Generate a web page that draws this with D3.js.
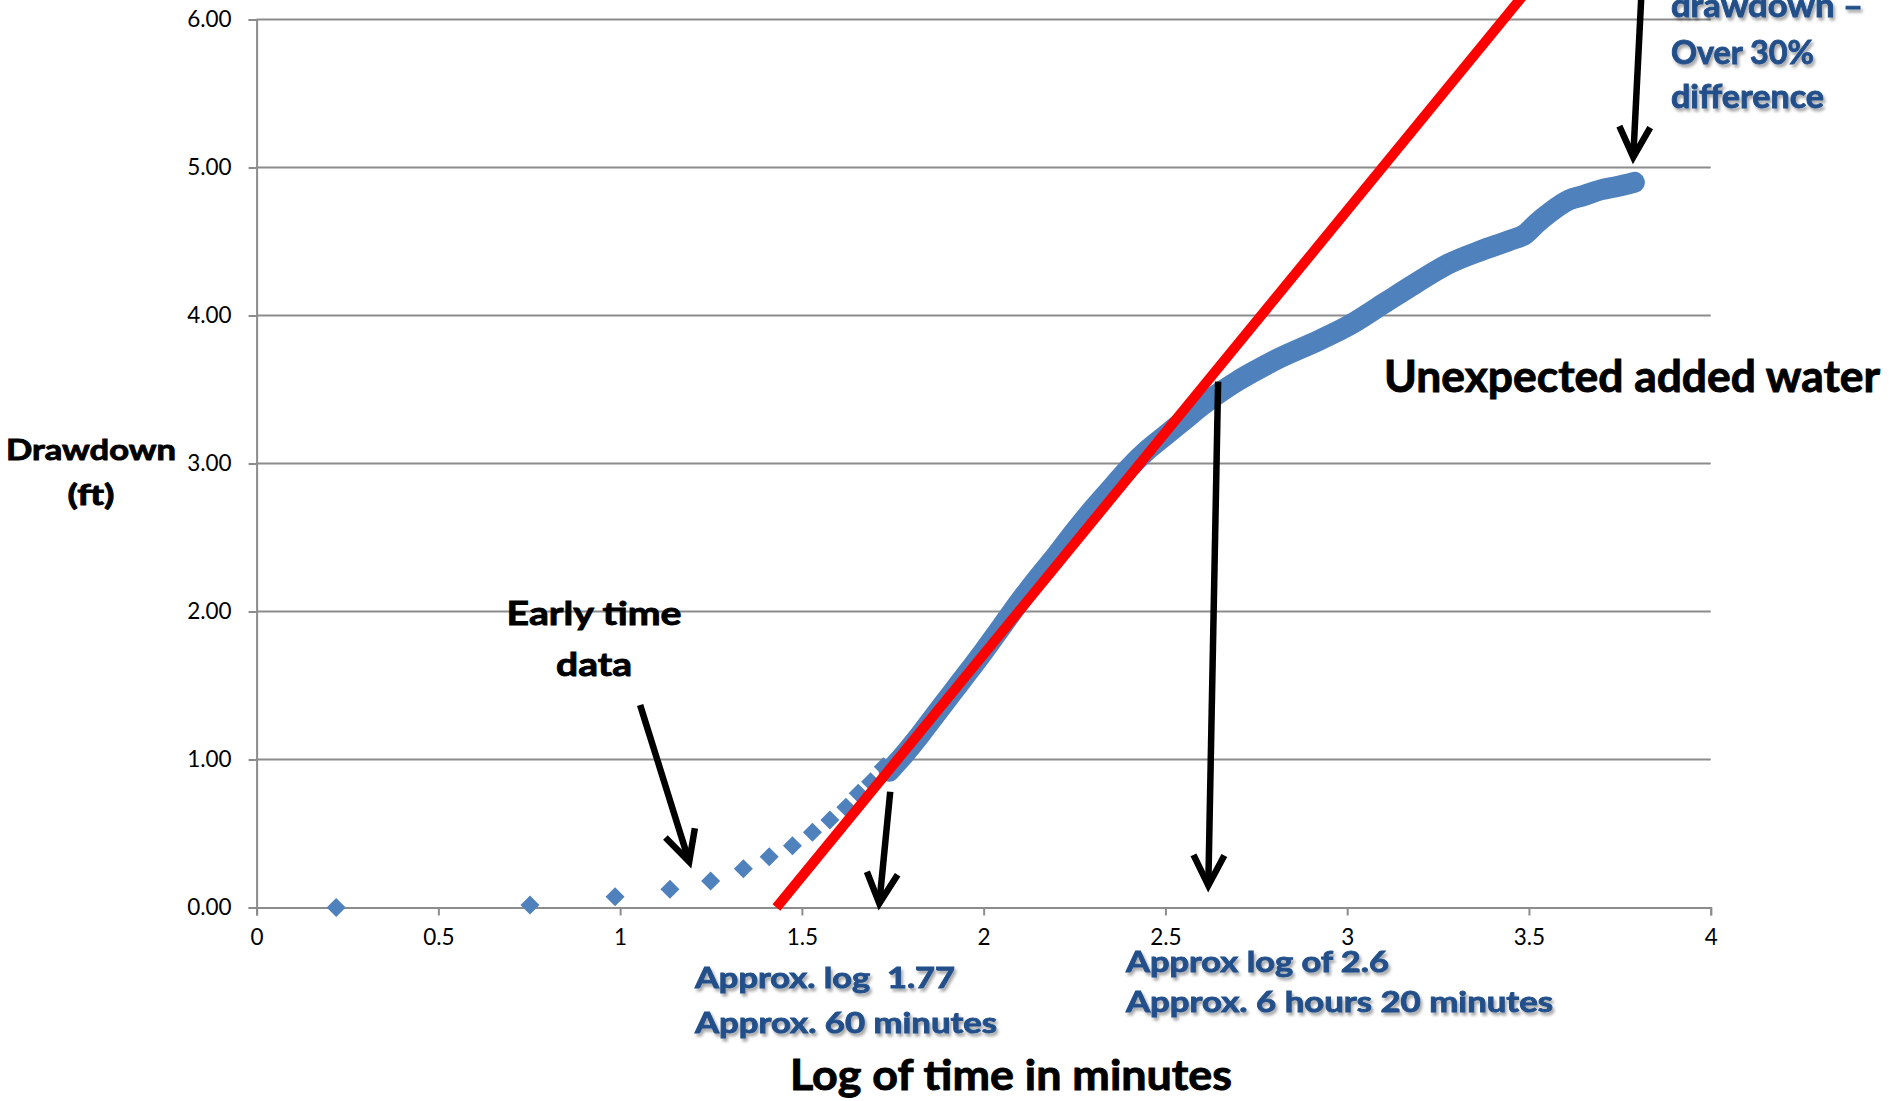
<!DOCTYPE html>
<html>
<head>
<meta charset="utf-8">
<script src="https://cdn.jsdelivr.net/npm/d3@7"></script>
<style>
  body { margin: 0; background: #fff; }
  svg { display: block; }
  text { font-family: Lato, "Open Sans", sans-serif; white-space: pre; }
</style>
</head>
<body>
<script>
// early time data (log10 of minutes, drawdown ft)
const earlyLogT = [0.219, 0.752, 0.986, 1.137, 1.249, 1.339, 1.410, 1.474, 1.529, 1.577, 1.621, 1.655, 1.689, 1.724];
const earlyDrawdown = [0.00, 0.017, 0.073, 0.123, 0.179, 0.262, 0.343, 0.418, 0.508, 0.591, 0.677, 0.772, 0.85, 0.951];

// dense part of the record, read along the middle of the band
const bandLogT = [1.74, 1.78, 1.82, 1.86, 1.91, 1.96, 2.00, 2.05, 2.10, 2.15, 2.20, 2.25, 2.30, 2.35, 2.40,
  2.45, 2.50, 2.55, 2.60, 2.65, 2.70, 2.75, 2.82, 2.92, 3.01, 3.10, 3.19, 3.28, 3.37, 3.45, 3.49, 3.52,
  3.56, 3.61, 3.65, 3.70, 3.74, 3.79];
const bandDrawdown = [0.92, 1.03, 1.15, 1.28, 1.44, 1.60, 1.73, 1.90, 2.07, 2.23, 2.38, 2.54, 2.69, 2.83, 2.97,
  3.09, 3.19, 3.29, 3.39, 3.48, 3.56, 3.63, 3.72, 3.83, 3.94, 4.08, 4.22, 4.35, 4.44, 4.51, 4.55, 4.62,
  4.70, 4.78, 4.81, 4.85, 4.87, 4.90];

// straight line fit (red)
const fitLogT = [1.43, 3.50];
const fitDrawdown = [0.0, 6.21];

const xTicks = [0, 0.5, 1, 1.5, 2, 2.5, 3, 3.5, 4];
const yTicks = [0, 1, 2, 3, 4, 5, 6];

// arrows in data units: [logT, drawdown] from -> to (tip)
const arrows = [
  {from: [1.055, 1.368], to: [1.190, 0.309]},
  {from: [1.743, 0.782], to: [1.713, 0.028]},
  {from: [2.645, 3.553], to: [2.618, 0.149]},
  {from: [3.810, 6.20], to: [3.787, 5.07]}
];

const width = 1889, height = 1101;
const margin = {left: 256.6, right: 178.3, top: 19.5, bottom: 193.5};

const x = d3.scaleLinear().domain([0, 4]).range([margin.left, width - margin.right]);
const y = d3.scaleLinear().domain([0, 6]).range([height - margin.bottom, margin.top]);

const svg = d3.select("body").append("svg")
  .attr("width", width)
  .attr("height", height)
  .attr("viewBox", [0, 0, width, height]);

const defs = svg.append("defs");
defs.append("filter").attr("id", "shadow")
  .attr("x", "-5%").attr("y", "-20%").attr("width", "115%").attr("height", "160%")
  .append("feDropShadow")
  .attr("dx", 2).attr("dy", 3).attr("stdDeviation", 1.6)
  .attr("flood-color", "#000").attr("flood-opacity", 0.35);

const gray = "#8c8c8c";

// gridlines
svg.append("g")
  .selectAll("line")
  .data(yTicks.filter(d => d > 0))
  .join("line")
  .attr("x1", x(0)).attr("x2", x(4))
  .attr("y1", d => y(d)).attr("y2", d => y(d))
  .attr("stroke", gray).attr("stroke-width", 2);

// y axis
const yAxis = svg.append("g")
  .attr("transform", `translate(${x(0)},0)`)
  .call(d3.axisLeft(y).tickValues(yTicks).tickFormat(d3.format(".2f")).tickSize(8).tickPadding(17));
yAxis.select(".domain").attr("stroke", gray).attr("stroke-width", 2);
yAxis.selectAll(".tick line").attr("stroke", gray).attr("stroke-width", 2);
yAxis.selectAll(".tick text").attr("font-size", 22.5).attr("fill", "#000")
  .attr("font-family", "Lato, 'Open Sans', sans-serif");

// x axis
const xAxis = svg.append("g")
  .attr("transform", `translate(0,${y(0)})`)
  .call(d3.axisBottom(x).tickValues(xTicks).tickFormat(d => String(d)).tickSize(8).tickPadding(14));
xAxis.select(".domain").attr("stroke", gray).attr("stroke-width", 2);
xAxis.selectAll(".tick line").attr("stroke", gray).attr("stroke-width", 2);
xAxis.selectAll(".tick text").attr("font-size", 22.5).attr("fill", "#000")
  .attr("font-family", "Lato, 'Open Sans', sans-serif");

const blue = "#4f81bd";
const diamond = (cx, cy, r) => `M${cx},${cy - r}L${cx + r},${cy}L${cx},${cy + r}L${cx - r},${cy}Z`;

// dense band as a thick line plus markers
const bandPts = bandLogT.map((d, i) => [d, bandDrawdown[i]]);
svg.append("path")
  .datum(bandPts)
  .attr("fill", "none")
  .attr("stroke", blue)
  .attr("stroke-width", 21)
  .attr("stroke-linejoin", "round")
  .attr("stroke-linecap", "round")
  .attr("d", d3.line().curve(d3.curveMonotoneX).x(d => x(d[0])).y(d => y(d[1])));

const markerPts = earlyLogT.map((d, i) => [d, earlyDrawdown[i]]).concat(bandPts);
svg.append("g")
  .selectAll("path")
  .data(markerPts)
  .join("path")
  .attr("d", d => diamond(x(d[0]), y(d[1]), 9.5))
  .attr("fill", blue);

// red fitted line
svg.append("path")
  .datum(fitLogT.map((d, i) => [d, fitDrawdown[i]]))
  .attr("fill", "none")
  .attr("stroke", "#ff0000")
  .attr("stroke-width", 10)
  .attr("d", d3.line().x(d => x(d[0])).y(d => y(d[1])));

// arrows
const armLen = 34, armAng = 27 * Math.PI / 180;
const ga = svg.append("g").attr("stroke", "#000").attr("fill", "none")
  .attr("stroke-width", 6.5);
arrows.forEach(a => {
  const x0 = x(a.from[0]), y0 = y(a.from[1]);
  const x1 = x(a.to[0]), y1 = y(a.to[1]);
  ga.append("line").attr("x1", x0).attr("y1", y0).attr("x2", x1).attr("y2", y1);
  const ang = Math.atan2(y0 - y1, x0 - x1);
  const p1 = [x1 + armLen * Math.cos(ang + armAng), y1 + armLen * Math.sin(ang + armAng)];
  const p2 = [x1 + armLen * Math.cos(ang - armAng), y1 + armLen * Math.sin(ang - armAng)];
  ga.append("path")
    .attr("d", `M${p1}L${x1},${y1}L${p2}`)
    .attr("stroke-linejoin", "miter")
    .attr("stroke-miterlimit", 10);
});

// text annotations
const labels = [
  {t: "Drawdown", x: 91, y: 460, size: 29, w: 170, anchor: "middle", color: "#000"},
  {t: "(ft)", x: 91, y: 505, size: 29, w: 47, anchor: "middle", color: "#000"},
  {t: "Early time", x: 594, y: 625, size: 33, w: 175, anchor: "middle", color: "#000"},
  {t: "data", x: 594, y: 676, size: 33, w: 76, anchor: "middle", color: "#000"},
  {t: "Unexpected added water", x: 1384, y: 392, size: 43, w: 496, anchor: "start", color: "#000"},
  {t: "Log of time in minutes", x: 790, y: 1090, size: 42, w: 442, anchor: "start", color: "#000"},
  {t: "Approx. log  1.77", x: 695, y: 988, size: 29, w: 260, anchor: "start", color: "#24508a", shadow: true},
  {t: "Approx. 60 minutes", x: 695, y: 1033, size: 29, w: 302, anchor: "start", color: "#24508a", shadow: true},
  {t: "Approx log of 2.6", x: 1126, y: 972, size: 29, w: 263, anchor: "start", color: "#24508a", shadow: true},
  {t: "Approx. 6 hours 20 minutes", x: 1126, y: 1012, size: 29, w: 427, anchor: "start", color: "#24508a", shadow: true},
  {t: "drawdown –", x: 1671, y: 17, size: 33, w: 192, anchor: "start", color: "#24508a", shadow: true},
  {t: "Over 30%", x: 1671, y: 64, size: 33, w: 143, anchor: "start", color: "#24508a", shadow: true},
  {t: "difference", x: 1671, y: 108, size: 33, w: 153, anchor: "start", color: "#24508a", shadow: true}
];

svg.append("g")
  .selectAll("text")
  .data(labels)
  .join("text")
  .attr("x", d => d.x)
  .attr("y", d => d.y)
  .attr("text-anchor", d => d.anchor)
  .attr("font-size", d => d.size)
  .attr("font-weight", "bold")
  .attr("fill", d => d.color)
  .attr("stroke", d => d.color)
  .attr("stroke-width", 0.9)
  .attr("textLength", d => d.w)
  .attr("lengthAdjust", "spacingAndGlyphs")
  .attr("filter", d => d.shadow ? "url(#shadow)" : null)
  .text(d => d.t);
</script>
</body>
</html>
